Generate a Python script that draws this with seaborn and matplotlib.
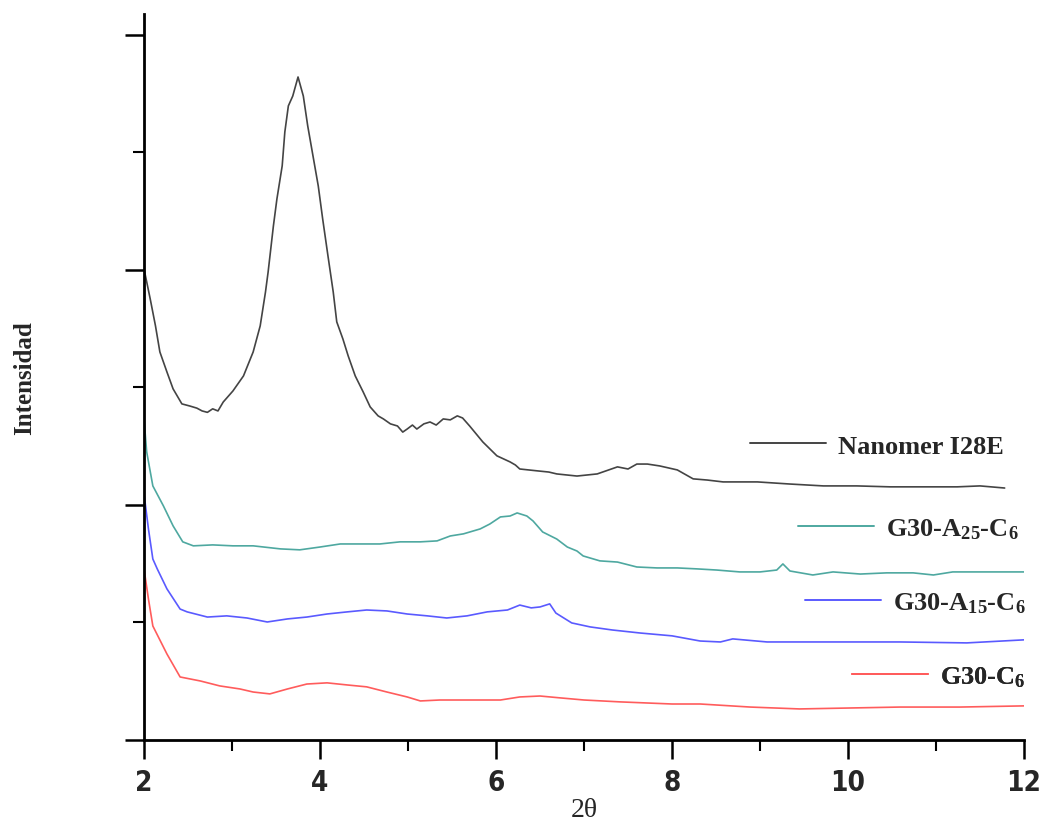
import matplotlib

matplotlib.use("Agg")
import matplotlib.pyplot as plt
import numpy as np
import pandas as pd
import seaborn as sns
from matplotlib import font_manager
from matplotlib.lines import Line2D
from matplotlib.ticker import MultipleLocator

# XRD patterns, intensity in arbitrary units
nanomer_x = [2.00, 2.07, 2.13, 2.18, 2.26, 2.33, 2.43, 2.52, 2.60, 2.66, 2.72, 2.78, 2.84, 2.90,
             3.01, 3.13, 3.24, 3.32, 3.38, 3.41, 3.47, 3.51, 3.57, 3.60, 3.64, 3.69, 3.75,
             3.81, 3.86, 3.92, 3.98, 4.03, 4.09, 4.15, 4.19, 4.26, 4.32, 4.40, 4.49, 4.57,
             4.66, 4.72, 4.80, 4.88, 4.94, 4.99, 5.05, 5.10, 5.18, 5.25, 5.32, 5.40, 5.48,
             5.56, 5.62, 5.70, 5.85, 6.01, 6.16, 6.22, 6.27, 6.47, 6.60, 6.69, 6.92, 7.15,
             7.38, 7.50, 7.60, 7.72, 7.86, 8.06, 8.24, 8.40, 8.58, 8.97, 9.34, 9.72, 10.10,
             10.48, 10.85, 11.24, 11.50, 11.78]
nanomer_y = [2004, 1877, 1762, 1651, 1566, 1494, 1430, 1421, 1412, 1400, 1394, 1409, 1400, 1438,
             1485, 1549, 1651, 1762, 1906, 1991, 2187, 2302, 2443, 2587, 2698, 2740, 2821,
             2740, 2613, 2485, 2357, 2217, 2060, 1906, 1779, 1706, 1634, 1549, 1481, 1417,
             1379, 1366, 1345, 1336, 1310, 1323, 1340, 1323, 1345, 1353, 1340, 1366, 1362,
             1379, 1370, 1336, 1268, 1209, 1183, 1170, 1153, 1145, 1140, 1132, 1123, 1132,
             1162, 1153, 1174, 1174, 1166, 1149, 1111, 1106, 1098, 1098, 1089, 1081, 1081,
             1077, 1077, 1077, 1081, 1072]

a25_x = [2.00, 2.03, 2.10, 2.22, 2.33, 2.44, 2.56, 2.78, 3.01, 3.24, 3.55, 3.77, 4.00, 4.23,
         4.45, 4.68, 4.91, 5.14, 5.33, 5.48, 5.63, 5.82, 5.93, 6.05, 6.16, 6.24, 6.35, 6.42,
         6.53, 6.69, 6.81, 6.92, 6.99, 7.18, 7.38, 7.60, 7.83, 8.06, 8.28, 8.51, 8.77, 9.00,
         9.19, 9.26, 9.34, 9.60, 9.83, 10.14, 10.44, 10.74, 10.97, 11.19, 11.50, 12.00]
a25_y = [1366, 1226, 1081, 996, 911, 843, 826, 830, 826, 826, 813, 809, 821, 834,
         834, 834, 843, 843, 847, 868, 877, 898, 919, 949, 953, 966, 953, 932,
         885, 855, 821, 804, 783, 762, 757, 736, 732, 732, 728, 723, 715, 715,
         723, 749, 719, 702, 715, 706, 711, 711, 702, 715, 715, 715]

a15_x = [2.00, 2.05, 2.10, 2.15, 2.26, 2.41, 2.49, 2.72, 2.94, 3.17, 3.40, 3.63, 3.85, 4.08,
         4.31, 4.53, 4.76, 4.99, 5.22, 5.44, 5.67, 5.90, 6.13, 6.27, 6.40, 6.50, 6.61, 6.68,
         6.86, 7.07, 7.32, 7.64, 8.00, 8.32, 8.55, 8.69, 9.08, 9.83, 10.59, 11.35, 12.00]
a15_y = [1047, 898, 770, 728, 643, 557, 545, 523, 528, 519, 502, 515, 523, 536,
         545, 553, 549, 536, 528, 519, 528, 545, 553, 574, 562, 566, 579, 540,
         498, 481, 468, 455, 443, 421, 417, 430, 417, 417, 417, 413, 426]

c6_x = [2.00, 2.05, 2.10, 2.26, 2.41, 2.64, 2.86, 3.09, 3.24, 3.43, 3.63, 3.85, 4.08, 4.31,
        4.53, 4.76, 4.99, 5.14, 5.36, 5.59, 5.82, 6.05, 6.27, 6.50, 6.73, 7.00, 7.41, 8.00,
        8.32, 8.89, 9.45, 10.02, 10.59, 11.27, 12.00]
c6_y = [728, 600, 485, 366, 268, 251, 230, 217, 204, 196, 217, 238, 243, 234,
        226, 204, 183, 166, 170, 170, 170, 170, 183, 187, 179, 170, 162, 153,
        153, 140, 132, 136, 140, 140, 145]

names = ["Nanomer I28E", "G30-A$_{25}$-C$_{6}$", "G30-A$_{15}$-C$_{6}$", "G30-C$_{6}$"]
colors = ["#444444", "#4ea8a0", "#5a5aff", "#ff5c5c"]
legend_anchor = [(0.977, 0.405), (0.994, 0.291), (1.002, 0.189), (1.002, 0.087)]


def narrow_font():
    # prefer a condensed sans that has a bold face, for the tick labels
    for f in font_manager.fontManager.ttflist:
        is_narrow = "Narrow" in f.name or "Condensed" in f.name or f.stretch == "condensed"
        is_bold = f.weight in ("bold", 700, "heavy", 800)
        if is_narrow and is_bold and "Serif" not in f.name and "Mono" not in f.name:
            return f.name, f.stretch
    return "Liberation Sans", "normal"


def main():
    sns.set_style("ticks")
    plt.rcParams["mathtext.fontset"] = "custom"
    plt.rcParams["mathtext.rm"] = "Liberation Serif:bold"
    plt.rcParams["mathtext.it"] = "Liberation Serif:bold"
    plt.rcParams["mathtext.bf"] = "Liberation Serif:bold"

    df = pd.concat([
        pd.DataFrame({"x": nanomer_x, "y": nanomer_y, "sample": names[0]}),
        pd.DataFrame({"x": a25_x, "y": a25_y, "sample": names[1]}),
        pd.DataFrame({"x": a15_x, "y": a15_y, "sample": names[2]}),
        pd.DataFrame({"x": c6_x, "y": c6_y, "sample": names[3]}),
    ])

    fig = plt.figure(figsize=(10.43, 8.29), dpi=100)
    ax = fig.add_axes([0.1381, 0.1062, 0.8437, 0.8757])
    sns.lineplot(data=df, x="x", y="y", hue="sample", hue_order=names,
                 palette=dict(zip(names, colors)), estimator=None, sort=False,
                 linewidth=1.2, legend=False, ax=ax)

    ax.set_xlim(2, 12)
    ax.set_ylim(0, 3089)
    ax.xaxis.set_major_locator(MultipleLocator(2))
    ax.xaxis.set_minor_locator(MultipleLocator(1))
    ax.yaxis.set_major_locator(MultipleLocator(1000))
    ax.yaxis.set_minor_locator(MultipleLocator(500))
    ax.set_yticklabels([])
    ax.tick_params(axis="both", which="major", direction="out", length=14, width=1.8, color="black")
    ax.tick_params(axis="both", which="minor", direction="out", length=8, width=1.5, color="black")
    ax.tick_params(axis="x", pad=6)
    tick_family, tick_stretch = narrow_font()
    for lab in ax.get_xticklabels():
        lab.set_fontfamily([tick_family, "Liberation Sans"])
        lab.set_fontstretch(tick_stretch)
        lab.set_fontweight("bold")
        lab.set_fontsize(20)

    for side in ["top", "right"]:
        ax.spines[side].set_visible(False)
    for side in ["left", "bottom"]:
        ax.spines[side].set_linewidth(2.0)
        ax.spines[side].set_color("black")

    ax.set_xlabel("2θ", fontfamily="Liberation Serif", fontsize=20, labelpad=1)
    ax.set_ylabel("Intensidad", fontfamily="Liberation Serif", fontweight="bold",
                  fontsize=18, labelpad=60)

    for name, color, anchor in zip(names, colors, legend_anchor):
        handle = Line2D([], [], color=color, linewidth=1.4)
        leg = ax.legend([handle], [name], loc="center right", bbox_to_anchor=anchor,
                        frameon=False, handlelength=2.9, handletextpad=0.45, borderpad=0,
                        borderaxespad=0,
                        prop={"family": "Liberation Serif", "weight": "bold", "size": 19})
        ax.add_artist(leg)

    fig.savefig("out.png", dpi=100)
    plt.close(fig)


if __name__ == "__main__":
    main()
